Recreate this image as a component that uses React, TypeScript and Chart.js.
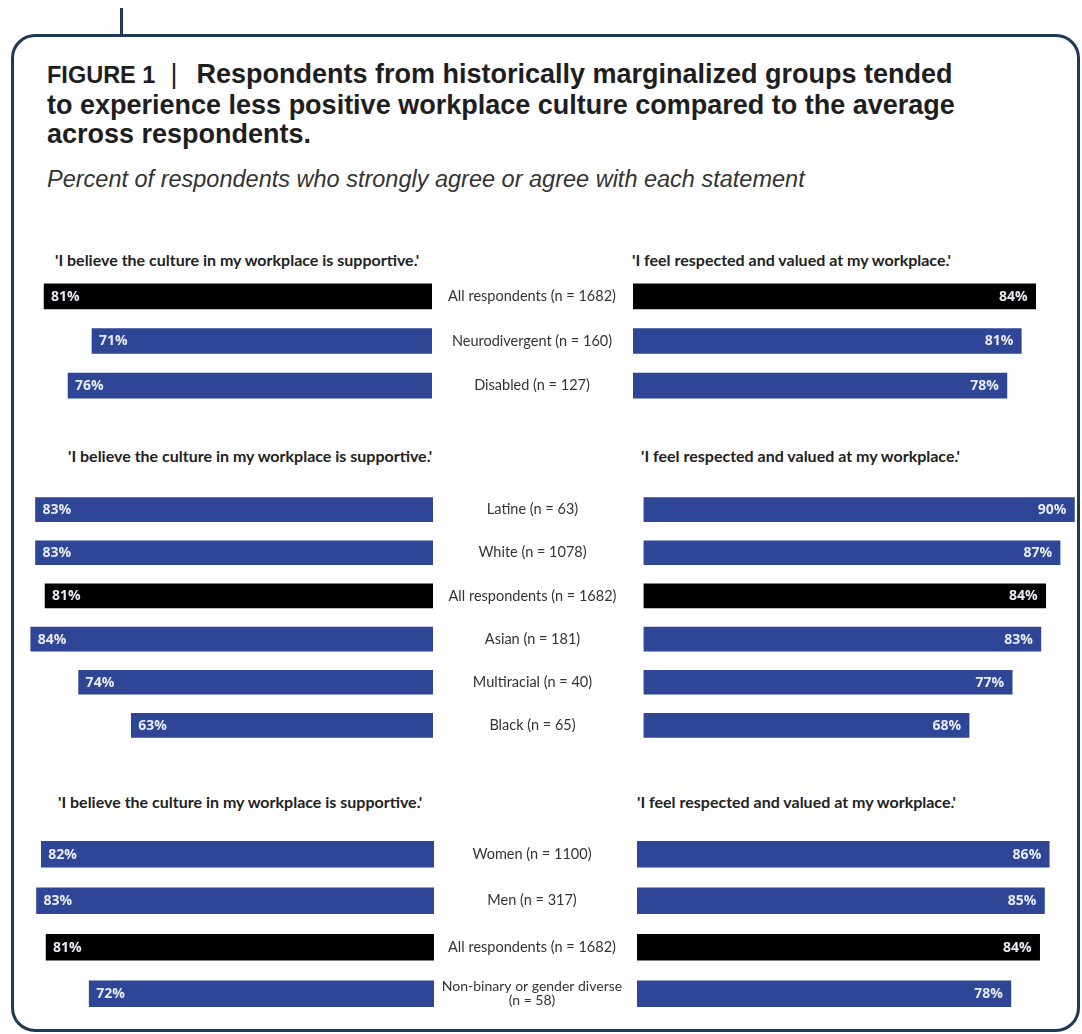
import React, { useEffect, useRef } from "react";
import { Chart, registerables } from "chart.js";

Chart.register(...registerables);

// ---------- DATA ----------
const leftStatement = "'I believe the culture in my workplace is supportive.'";
const rightStatement = "'I feel respected and valued at my workplace.'";

const disabilityGroups: (string | string[])[] = [
  "All respondents (n = 1682)",
  "Neurodivergent (n = 160)",
  "Disabled (n = 127)",
];
const disabilitySupportive = [81, 71, 76];
const disabilityRespected = [84, 81, 78];

const raceGroups: (string | string[])[] = [
  "Latine (n = 63)",
  "White (n = 1078)",
  "All respondents (n = 1682)",
  "Asian (n = 181)",
  "Multiracial (n = 40)",
  "Black (n = 65)",
];
const raceSupportive = [83, 83, 81, 84, 74, 63];
const raceRespected = [90, 87, 84, 83, 77, 68];

const genderGroups: (string | string[])[] = [
  "Women (n = 1100)",
  "Men (n = 317)",
  "All respondents (n = 1682)",
  ["Non-binary or gender diverse", "(n = 58)"],
];
const genderSupportive = [82, 83, 81, 72];
const genderRespected = [86, 85, 84, 78];

// ---------- STYLE ----------
const BLUE = "#2f4596";
const BLACK = "#000000";
const PX_PER_PCT = 4.79;
const LEFT_MAX = 90;
const RIGHT_MAX = 92;
const LABEL_CENTER_X = 532;
const FRAME = "#1f3957";

const isAll = (g: string | string[]) =>
  typeof g === "string" && g.startsWith("All respondents");

function valueLabelPlugin(side: "left" | "right") {
  return {
    id: "valueLabels" + side,
    afterDatasetsDraw(chart: any) {
      const ctx = chart.ctx;
      const meta = chart.getDatasetMeta(0);
      const data = chart.data.datasets[0].data;
      ctx.save();
      ctx.font = 'bold 14px "Open Sans", "DejaVu Sans", sans-serif';
      ctx.fillStyle = "#e9ebf3";
      ctx.textBaseline = "middle";
      meta.data.forEach((bar: any, i: number) => {
        const txt = data[i] + "%";
        if (side === "left") {
          ctx.textAlign = "left";
          ctx.fillText(txt, bar.x + 7, bar.y + 0.5);
        } else {
          ctx.textAlign = "right";
          ctx.fillText(txt, bar.x - 8, bar.y + 0.5);
        }
      });
      ctx.restore();
    },
  };
}

function centerLabelPlugin(offsetX: number) {
  return {
    id: "centerLabels",
    afterDraw(chart: any) {
      const ctx = chart.ctx;
      const yScale = chart.scales.y;
      const labels = chart.data.labels;
      ctx.save();
      ctx.fillStyle = "#333333";
      ctx.textAlign = "center";
      ctx.textBaseline = "middle";
      labels.forEach((lab: any, i: number) => {
        const y = yScale.getPixelForValue(i);
        const lines = Array.isArray(lab) ? lab : [lab];
        ctx.font = lines.length > 1
          ? '14px "Lato", "Open Sans", sans-serif'
          : '14.5px "Lato", "Open Sans", sans-serif';
        const lh = 14;
        lines.forEach((ln: string, j: number) => {
          const yy = y + (j - (lines.length - 1) / 2) * lh;
          ctx.fillText(ln, offsetX, yy);
        });
      });
      ctx.restore();
    },
  };
}

type SectionProps = {
  groups: (string | string[])[];
  supportive: number[];
  respected: number[];
  top: number;
  rowStep: number;
  barThickness: number;
  leftAnchor: number;
  rightAnchor: number;
  leftTitle: [number, number];
  rightTitle: [number, number];
};

function Section(p: SectionProps) {
  const leftRef = useRef<HTMLCanvasElement>(null);
  const rightRef = useRef<HTMLCanvasElement>(null);
  const height = Math.round(p.rowStep * p.groups.length);
  const leftWidth = Math.round(LEFT_MAX * PX_PER_PCT);
  const gap = p.rightAnchor - p.leftAnchor;
  const rightWidth = Math.round(gap + RIGHT_MAX * PX_PER_PCT);
  const colors = p.groups.map((g) => (isAll(g) ? BLACK : BLUE));

  useEffect(() => {
    const common = (values: number[], max: number, reverse: boolean, padLeft: number) => ({
      type: "bar" as const,
      data: {
        labels: p.groups as any,
        datasets: [
          {
            data: values,
            backgroundColor: colors,
            borderWidth: 0,
            barThickness: p.barThickness,
          },
        ],
      },
      options: {
        indexAxis: "y" as const,
        animation: false as const,
        responsive: false,
        maintainAspectRatio: false,
        layout: { padding: { left: padLeft, right: 0, top: 0, bottom: 0 } },
        scales: {
          x: { min: 0, max, reverse, display: false },
          y: { display: false },
        },
        plugins: { legend: { display: false }, tooltip: { enabled: false } },
      },
    });
    const left = new Chart(leftRef.current!, {
      ...common(p.supportive, LEFT_MAX, true, 0),
      plugins: [valueLabelPlugin("left")],
    } as any);
    const right = new Chart(rightRef.current!, {
      ...common(p.respected, RIGHT_MAX, false, gap),
      plugins: [valueLabelPlugin("right"), centerLabelPlugin(LABEL_CENTER_X - p.leftAnchor)],
    } as any);
    return () => {
      left.destroy();
      right.destroy();
    };
  }, []);

  const titleStyle: React.CSSProperties = {
    position: "absolute",
    font: 'bold 16px "Lato", "Open Sans", sans-serif',
    color: "#222",
    whiteSpace: "nowrap",
    lineHeight: "18px",
  };

  return (
    <>
      <div style={{ ...titleStyle, left: p.leftTitle[0], top: p.leftTitle[1] - 9 }}>{leftStatement}</div>
      <div style={{ ...titleStyle, left: p.rightTitle[0], top: p.rightTitle[1] - 9 }}>{rightStatement}</div>
      <canvas
        ref={leftRef}
        width={leftWidth}
        height={height}
        style={{ position: "absolute", left: p.leftAnchor - leftWidth, top: p.top, width: leftWidth, height }}
      />
      <canvas
        ref={rightRef}
        width={rightWidth}
        height={height}
        style={{ position: "absolute", left: p.leftAnchor, top: p.top, width: rightWidth, height }}
      />
    </>
  );
}

export default function App() {
  return (
    <div
      style={{
        position: "absolute",
        left: 0,
        top: 0,
        width: 1082,
        height: 1034,
        overflow: "hidden",
        background: "#ffffff",
      }}
    >
      {/* connector line and frame */}
      <div style={{ position: "absolute", left: 120, top: 8, width: 3, height: 28, background: FRAME }} />
      <div
        style={{
          position: "absolute",
          left: 11,
          top: 34,
          width: 1069,
          height: 998,
          border: `3px solid ${FRAME}`,
          borderRadius: 24,
          boxSizing: "border-box",
        }}
      />
      <div
        style={{
          position: "absolute",
          left: 47,
          top: 60,
          width: 1030,
          font: 'bold 27px "Liberation Sans", Arial, sans-serif',
          lineHeight: "29.6px",
          color: "#1e1e1e",
          whiteSpace: "nowrap",
        }}
      >
        <span style={{ fontSize: 23.5 }}>FIGURE 1</span>
        <span style={{ fontWeight: 400, margin: "0 19px 0 15px" }}>|</span>
        Respondents from historically marginalized groups tended
        <br />
        to experience less positive workplace culture compared to the average
        <br />
        across respondents.
      </div>
      <div
        style={{
          position: "absolute",
          left: 47,
          top: 166,
          font: 'italic 23.5px "Liberation Sans", Arial, sans-serif',
          lineHeight: "26px",
          color: "#333",
          whiteSpace: "nowrap",
        }}
      >
        Percent of respondents who strongly agree or agree with each statement
      </div>

      <Section
        groups={disabilityGroups}
        supportive={disabilitySupportive}
        respected={disabilityRespected}
        top={273.5}
        rowStep={44.7}
        barThickness={25}
        leftAnchor={432}
        rightAnchor={633}
        leftTitle={[55, 260]}
        rightTitle={[632, 260]}
      />
      <Section
        groups={raceGroups}
        supportive={raceSupportive}
        respected={raceRespected}
        top={488.4}
        rowStep={43.2}
        barThickness={24}
        leftAnchor={432.5}
        rightAnchor={643}
        leftTitle={[68, 456]}
        rightTitle={[641, 456]}
      />
      <Section
        groups={genderGroups}
        supportive={genderSupportive}
        respected={genderRespected}
        top={830.75}
        rowStep={46.5}
        barThickness={26}
        leftAnchor={434}
        rightAnchor={637}
        leftTitle={[58, 802]}
        rightTitle={[637, 802]}
      />
    </div>
  );
}
